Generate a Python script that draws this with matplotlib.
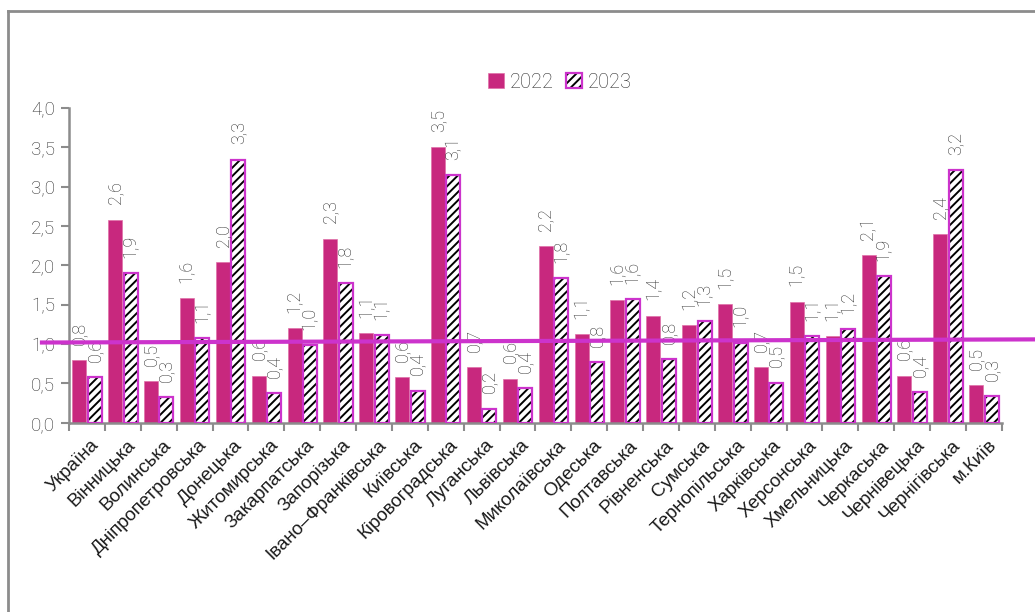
import numpy as np
import matplotlib
matplotlib.use("Agg")
import matplotlib.pyplot as plt
import matplotlib.transforms as mtransforms
from matplotlib.lines import Line2D
from matplotlib.legend_handler import HandlerTuple

# ── Дані ──────────────────────────────────────────────────
regions = [
    "Україна", "Вінницька", "Волинська", "Дніпропетровська", "Донецька",
    "Житомирська", "Закарпатська", "Запорізька", "Івано–Франківська",
    "Київська", "Кіровоградська", "Луганська", "Львівська", "Миколаївська",
    "Одеська", "Полтавська", "Рівненська", "Сумська", "Тернопільська",
    "Харківська", "Херсонська", "Хмельницька", "Черкаська", "Чернівецька",
    "Чернігівська", "м.Київ",
]
v2022 = [0.80, 2.58, 0.53, 1.58, 2.04, 0.60, 1.20, 2.34, 1.14, 0.58, 3.50,
         0.71, 0.56, 2.24, 1.13, 1.56, 1.36, 1.24, 1.51, 0.71, 1.54, 1.10,
         2.13, 0.60, 2.40, 0.48]
v2023 = [0.58, 1.90, 0.33, 1.08, 3.34, 0.38, 0.99, 1.77, 1.11, 0.41, 3.14,
         0.18, 0.44, 1.84, 0.77, 1.57, 0.81, 1.29, 1.02, 0.51, 1.10, 1.19,
         1.86, 0.39, 3.21, 0.34]
level = [1.02, 1.06]          # лінія рівня (ліворуч / праворуч)
yticks = [0.0, 0.5, 1.0, 1.5, 2.0, 2.5, 3.0, 3.5, 4.0]

c22 = "#C8287E"
c23_edge = "#CC33CC"
grey = "#8c8c8c"
txt = "#2e2e2e"
light_font = ["Roboto", "DejaVu Sans"]

plt.rcParams["hatch.linewidth"] = 1.4

fig = plt.figure(figsize=(10.35, 6.12), dpi=100)
ax = fig.add_axes([0.0667, 0.309, 0.9013, 0.515])

x = np.arange(len(regions))
w = 0.39
b1 = ax.bar(x - 0.215, v2022, w, color=c22, edgecolor="#e070a8", linewidth=0.5, zorder=2)
# 2023: чорне штрихування + окрема рамка
b2h = ax.bar(x + 0.215, v2023, w, facecolor="white", edgecolor="black",
             hatch="////", linewidth=0, zorder=2)
b2 = ax.bar(x + 0.215, v2023, w, facecolor="none", edgecolor=c23_edge,
            linewidth=1.6, zorder=3)

# підписи значень
for bars, vals in ((b1, v2022), (b2, v2023)):
    for r, v in zip(bars, vals):
        ax.annotate(f"{v:.1f}".replace(".", ","),
                    (r.get_x() + r.get_width() / 2, v),
                    xytext=(0, 11), textcoords="offset points",
                    rotation=90, ha="center", va="bottom",
                    fontsize=13, color=txt, family=light_font, fontweight="light")

# лінія рівня, виходить за межі осей
tr = mtransforms.blended_transform_factory(ax.transAxes, ax.transData)
ax.plot([-0.029, 1.04], level, transform=tr, color=c23_edge, lw=3,
        clip_on=False, zorder=5)

ax.set_xlim(-0.5, len(regions) - 0.5)
ax.set_ylim(0, 4.0)
ax.set_yticks(yticks)
ax.set_yticklabels([f"{t:.1f}".replace(".", ",") for t in yticks],
                   fontsize=13.5, color=txt, family=light_font, fontweight="light")
ax.set_xticks(x + 0.1)
ax.set_xticklabels(regions, rotation=45, ha="right", va="top",
                   rotation_mode="anchor", fontsize=13.5, color="#1a1a1a",
                   family=["Liberation Sans", "DejaVu Sans"])
ax.tick_params(axis="x", length=0, pad=10)
ax.set_xticks(np.arange(-0.5, len(regions)), minor=True)
ax.tick_params(axis="x", which="minor", length=6, width=1.5, color=grey, direction="out")
ax.tick_params(axis="y", length=6, width=1.5, color=grey, direction="out", pad=4)

for s in ("top", "right"):
    ax.spines[s].set_visible(False)
for s in ("left", "bottom"):
    ax.spines[s].set_color(grey)
    ax.spines[s].set_linewidth(1.8)

leg = fig.legend([b1, (b2h, b2)], ["2022", "2023"], loc="center",
                 bbox_to_anchor=(0.541, 0.866), ncol=2, frameon=False,
                 handler_map={tuple: HandlerTuple(ndivide=1, pad=0)},
                 handlelength=0.8, handleheight=0.8,
                 handletextpad=0.3, columnspacing=0.6,
                 prop={"family": light_font, "size": 14.5, "weight": "light"})
for t in leg.get_texts():
    t.set_color(txt)

# рамка діаграми (верх і ліворуч)
fig.add_artist(Line2D([8 / 1035, 1], [1 - 11 / 612] * 2, transform=fig.transFigure,
                      color=grey, lw=2))
fig.add_artist(Line2D([8 / 1035] * 2, [0, 1 - 11 / 612], transform=fig.transFigure,
                      color=grey, lw=2))

fig.savefig("out.png", dpi=100)
